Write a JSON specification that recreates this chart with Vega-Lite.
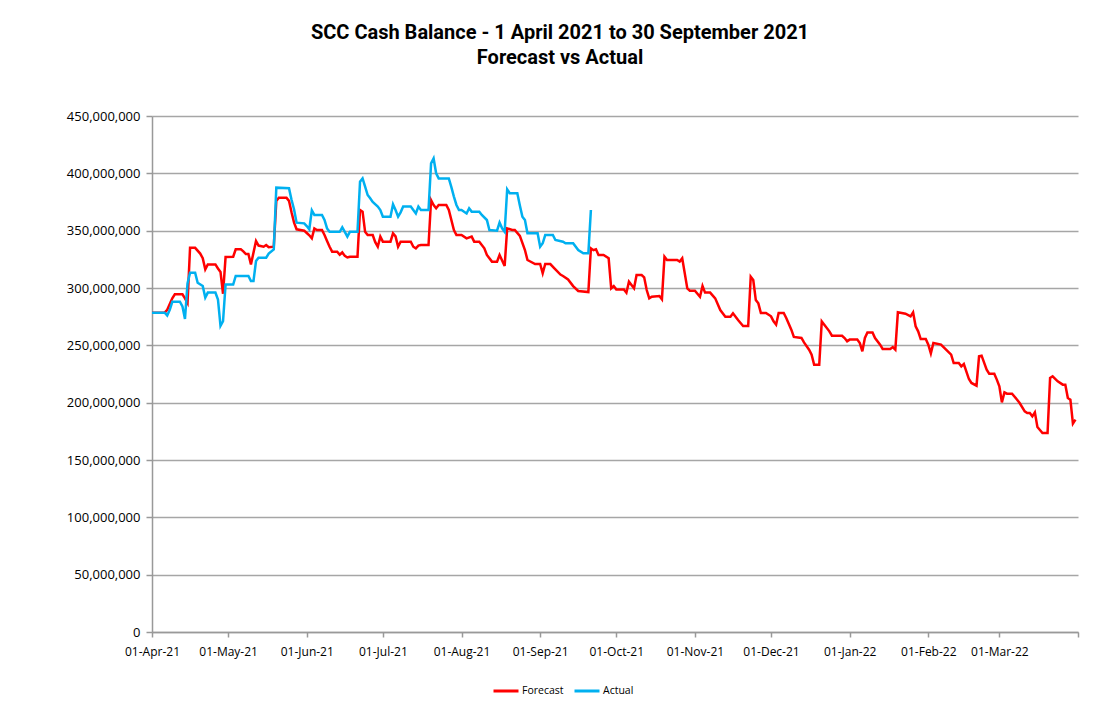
{
  "$schema": "https://vega.github.io/schema/vega-lite/v6.json",
  "autosize": "none",
  "width": 926,
  "height": 516,
  "padding": {"left": 152, "top": 116, "right": 30, "bottom": 69},
  "background": "white",
  "title": {
    "text": ["SCC Cash Balance - 1 April 2021 to 30 September 2021", "Forecast vs Actual"],
    "anchor": "middle",
    "frame": "group",
    "dx": -55,
    "offset": 42,
    "font": "Liberation Sans Narrow, Roboto, sans-serif",
    "fontSize": 20,
    "fontWeight": "bold",
    "lineHeight": 25,
    "color": "#000000"
  },
  "config": {
    "view": {"stroke": null},
    "axis": {"labelFont": "Open Sans", "labelColor": "#000000", "domainColor": "#999999", "tickColor": "#999999", "domainWidth": 1.5, "tickWidth": 1.5, "title": null}
  },
  "data": {"values": [
    {"date":"2021-04-01","value":278500000,"series":"Forecast"},
    {"date":"2021-04-06","value":278500000,"series":"Forecast"},
    {"date":"2021-04-07","value":281000000,"series":"Forecast"},
    {"date":"2021-04-09","value":291000000,"series":"Forecast"},
    {"date":"2021-04-10","value":294500000,"series":"Forecast"},
    {"date":"2021-04-13","value":294500000,"series":"Forecast"},
    {"date":"2021-04-14","value":291000000,"series":"Forecast"},
    {"date":"2021-04-15","value":287000000,"series":"Forecast"},
    {"date":"2021-04-16","value":335000000,"series":"Forecast"},
    {"date":"2021-04-18","value":335000000,"series":"Forecast"},
    {"date":"2021-04-20","value":330000000,"series":"Forecast"},
    {"date":"2021-04-21","value":326000000,"series":"Forecast"},
    {"date":"2021-04-22","value":316300000,"series":"Forecast"},
    {"date":"2021-04-23","value":320600000,"series":"Forecast"},
    {"date":"2021-04-26","value":320600000,"series":"Forecast"},
    {"date":"2021-04-27","value":317000000,"series":"Forecast"},
    {"date":"2021-04-28","value":314000000,"series":"Forecast"},
    {"date":"2021-04-29","value":295000000,"series":"Forecast"},
    {"date":"2021-04-30","value":327000000,"series":"Forecast"},
    {"date":"2021-05-03","value":327300000,"series":"Forecast"},
    {"date":"2021-05-04","value":333700000,"series":"Forecast"},
    {"date":"2021-05-06","value":333700000,"series":"Forecast"},
    {"date":"2021-05-07","value":332000000,"series":"Forecast"},
    {"date":"2021-05-08","value":329600000,"series":"Forecast"},
    {"date":"2021-05-09","value":329600000,"series":"Forecast"},
    {"date":"2021-05-10","value":320600000,"series":"Forecast"},
    {"date":"2021-05-12","value":341000000,"series":"Forecast"},
    {"date":"2021-05-13","value":337000000,"series":"Forecast"},
    {"date":"2021-05-15","value":336000000,"series":"Forecast"},
    {"date":"2021-05-16","value":337500000,"series":"Forecast"},
    {"date":"2021-05-17","value":335500000,"series":"Forecast"},
    {"date":"2021-05-19","value":336000000,"series":"Forecast"},
    {"date":"2021-05-20","value":376000000,"series":"Forecast"},
    {"date":"2021-05-21","value":378800000,"series":"Forecast"},
    {"date":"2021-05-24","value":378800000,"series":"Forecast"},
    {"date":"2021-05-25","value":376000000,"series":"Forecast"},
    {"date":"2021-05-26","value":366000000,"series":"Forecast"},
    {"date":"2021-05-27","value":357000000,"series":"Forecast"},
    {"date":"2021-05-28","value":351200000,"series":"Forecast"},
    {"date":"2021-05-31","value":350000000,"series":"Forecast"},
    {"date":"2021-06-01","value":348000000,"series":"Forecast"},
    {"date":"2021-06-02","value":346000000,"series":"Forecast"},
    {"date":"2021-06-03","value":343300000,"series":"Forecast"},
    {"date":"2021-06-04","value":352000000,"series":"Forecast"},
    {"date":"2021-06-05","value":350600000,"series":"Forecast"},
    {"date":"2021-06-07","value":350600000,"series":"Forecast"},
    {"date":"2021-06-08","value":346200000,"series":"Forecast"},
    {"date":"2021-06-09","value":341000000,"series":"Forecast"},
    {"date":"2021-06-10","value":336000000,"series":"Forecast"},
    {"date":"2021-06-11","value":331700000,"series":"Forecast"},
    {"date":"2021-06-13","value":331700000,"series":"Forecast"},
    {"date":"2021-06-14","value":329000000,"series":"Forecast"},
    {"date":"2021-06-15","value":331000000,"series":"Forecast"},
    {"date":"2021-06-16","value":328000000,"series":"Forecast"},
    {"date":"2021-06-17","value":326600000,"series":"Forecast"},
    {"date":"2021-06-18","value":327300000,"series":"Forecast"},
    {"date":"2021-06-21","value":327300000,"series":"Forecast"},
    {"date":"2021-06-22","value":368000000,"series":"Forecast"},
    {"date":"2021-06-23","value":366600000,"series":"Forecast"},
    {"date":"2021-06-24","value":349000000,"series":"Forecast"},
    {"date":"2021-06-25","value":346200000,"series":"Forecast"},
    {"date":"2021-06-27","value":346200000,"series":"Forecast"},
    {"date":"2021-06-28","value":340000000,"series":"Forecast"},
    {"date":"2021-06-29","value":336000000,"series":"Forecast"},
    {"date":"2021-06-30","value":344800000,"series":"Forecast"},
    {"date":"2021-07-01","value":340400000,"series":"Forecast"},
    {"date":"2021-07-04","value":340400000,"series":"Forecast"},
    {"date":"2021-07-05","value":347600000,"series":"Forecast"},
    {"date":"2021-07-06","value":345000000,"series":"Forecast"},
    {"date":"2021-07-07","value":336000000,"series":"Forecast"},
    {"date":"2021-07-08","value":340400000,"series":"Forecast"},
    {"date":"2021-07-12","value":340400000,"series":"Forecast"},
    {"date":"2021-07-13","value":336000000,"series":"Forecast"},
    {"date":"2021-07-14","value":334600000,"series":"Forecast"},
    {"date":"2021-07-15","value":337000000,"series":"Forecast"},
    {"date":"2021-07-16","value":337500000,"series":"Forecast"},
    {"date":"2021-07-19","value":337500000,"series":"Forecast"},
    {"date":"2021-07-20","value":376700000,"series":"Forecast"},
    {"date":"2021-07-21","value":372400000,"series":"Forecast"},
    {"date":"2021-07-22","value":369500000,"series":"Forecast"},
    {"date":"2021-07-23","value":372400000,"series":"Forecast"},
    {"date":"2021-07-26","value":372400000,"series":"Forecast"},
    {"date":"2021-07-27","value":368000000,"series":"Forecast"},
    {"date":"2021-07-29","value":350600000,"series":"Forecast"},
    {"date":"2021-07-30","value":346200000,"series":"Forecast"},
    {"date":"2021-08-01","value":346200000,"series":"Forecast"},
    {"date":"2021-08-03","value":343300000,"series":"Forecast"},
    {"date":"2021-08-05","value":344800000,"series":"Forecast"},
    {"date":"2021-08-06","value":340400000,"series":"Forecast"},
    {"date":"2021-08-08","value":340400000,"series":"Forecast"},
    {"date":"2021-08-10","value":334600000,"series":"Forecast"},
    {"date":"2021-08-11","value":328800000,"series":"Forecast"},
    {"date":"2021-08-13","value":323000000,"series":"Forecast"},
    {"date":"2021-08-15","value":323000000,"series":"Forecast"},
    {"date":"2021-08-16","value":328800000,"series":"Forecast"},
    {"date":"2021-08-17","value":324000000,"series":"Forecast"},
    {"date":"2021-08-18","value":319200000,"series":"Forecast"},
    {"date":"2021-08-19","value":352000000,"series":"Forecast"},
    {"date":"2021-08-21","value":350600000,"series":"Forecast"},
    {"date":"2021-08-22","value":350600000,"series":"Forecast"},
    {"date":"2021-08-24","value":345400000,"series":"Forecast"},
    {"date":"2021-08-26","value":333100000,"series":"Forecast"},
    {"date":"2021-08-27","value":324400000,"series":"Forecast"},
    {"date":"2021-08-30","value":320900000,"series":"Forecast"},
    {"date":"2021-09-01","value":320900000,"series":"Forecast"},
    {"date":"2021-09-02","value":312800000,"series":"Forecast"},
    {"date":"2021-09-03","value":320900000,"series":"Forecast"},
    {"date":"2021-09-05","value":320900000,"series":"Forecast"},
    {"date":"2021-09-07","value":316300000,"series":"Forecast"},
    {"date":"2021-09-09","value":311700000,"series":"Forecast"},
    {"date":"2021-09-10","value":310500000,"series":"Forecast"},
    {"date":"2021-09-12","value":307500000,"series":"Forecast"},
    {"date":"2021-09-14","value":301700000,"series":"Forecast"},
    {"date":"2021-09-16","value":297400000,"series":"Forecast"},
    {"date":"2021-09-20","value":296500000,"series":"Forecast"},
    {"date":"2021-09-21","value":334600000,"series":"Forecast"},
    {"date":"2021-09-22","value":333000000,"series":"Forecast"},
    {"date":"2021-09-23","value":333700000,"series":"Forecast"},
    {"date":"2021-09-24","value":328800000,"series":"Forecast"},
    {"date":"2021-09-26","value":328800000,"series":"Forecast"},
    {"date":"2021-09-28","value":325900000,"series":"Forecast"},
    {"date":"2021-09-29","value":299700000,"series":"Forecast"},
    {"date":"2021-09-30","value":301700000,"series":"Forecast"},
    {"date":"2021-10-01","value":298800000,"series":"Forecast"},
    {"date":"2021-10-04","value":298800000,"series":"Forecast"},
    {"date":"2021-10-05","value":295900000,"series":"Forecast"},
    {"date":"2021-10-06","value":305500000,"series":"Forecast"},
    {"date":"2021-10-07","value":302600000,"series":"Forecast"},
    {"date":"2021-10-08","value":299700000,"series":"Forecast"},
    {"date":"2021-10-09","value":311300000,"series":"Forecast"},
    {"date":"2021-10-11","value":311300000,"series":"Forecast"},
    {"date":"2021-10-12","value":309300000,"series":"Forecast"},
    {"date":"2021-10-13","value":298200000,"series":"Forecast"},
    {"date":"2021-10-14","value":291000000,"series":"Forecast"},
    {"date":"2021-10-15","value":292400000,"series":"Forecast"},
    {"date":"2021-10-18","value":293000000,"series":"Forecast"},
    {"date":"2021-10-19","value":290100000,"series":"Forecast"},
    {"date":"2021-10-20","value":327300000,"series":"Forecast"},
    {"date":"2021-10-21","value":324400000,"series":"Forecast"},
    {"date":"2021-10-25","value":324400000,"series":"Forecast"},
    {"date":"2021-10-26","value":323000000,"series":"Forecast"},
    {"date":"2021-10-27","value":325900000,"series":"Forecast"},
    {"date":"2021-10-29","value":299700000,"series":"Forecast"},
    {"date":"2021-10-30","value":297700000,"series":"Forecast"},
    {"date":"2021-11-01","value":297700000,"series":"Forecast"},
    {"date":"2021-11-03","value":292400000,"series":"Forecast"},
    {"date":"2021-11-04","value":301700000,"series":"Forecast"},
    {"date":"2021-11-05","value":296000000,"series":"Forecast"},
    {"date":"2021-11-07","value":296000000,"series":"Forecast"},
    {"date":"2021-11-09","value":291000000,"series":"Forecast"},
    {"date":"2021-11-11","value":280800000,"series":"Forecast"},
    {"date":"2021-11-13","value":275000000,"series":"Forecast"},
    {"date":"2021-11-15","value":275000000,"series":"Forecast"},
    {"date":"2021-11-16","value":277900000,"series":"Forecast"},
    {"date":"2021-11-18","value":272100000,"series":"Forecast"},
    {"date":"2021-11-20","value":266900000,"series":"Forecast"},
    {"date":"2021-11-22","value":266900000,"series":"Forecast"},
    {"date":"2021-11-23","value":309900000,"series":"Forecast"},
    {"date":"2021-11-24","value":307000000,"series":"Forecast"},
    {"date":"2021-11-25","value":289500000,"series":"Forecast"},
    {"date":"2021-11-26","value":286600000,"series":"Forecast"},
    {"date":"2021-11-27","value":278200000,"series":"Forecast"},
    {"date":"2021-11-29","value":278200000,"series":"Forecast"},
    {"date":"2021-12-01","value":275300000,"series":"Forecast"},
    {"date":"2021-12-02","value":270900000,"series":"Forecast"},
    {"date":"2021-12-03","value":268000000,"series":"Forecast"},
    {"date":"2021-12-04","value":278200000,"series":"Forecast"},
    {"date":"2021-12-06","value":278200000,"series":"Forecast"},
    {"date":"2021-12-07","value":273800000,"series":"Forecast"},
    {"date":"2021-12-09","value":263700000,"series":"Forecast"},
    {"date":"2021-12-10","value":257300000,"series":"Forecast"},
    {"date":"2021-12-13","value":256400000,"series":"Forecast"},
    {"date":"2021-12-14","value":252600000,"series":"Forecast"},
    {"date":"2021-12-16","value":246200000,"series":"Forecast"},
    {"date":"2021-12-17","value":241900000,"series":"Forecast"},
    {"date":"2021-12-18","value":233100000,"series":"Forecast"},
    {"date":"2021-12-20","value":233100000,"series":"Forecast"},
    {"date":"2021-12-21","value":270900000,"series":"Forecast"},
    {"date":"2021-12-22","value":268000000,"series":"Forecast"},
    {"date":"2021-12-24","value":262200000,"series":"Forecast"},
    {"date":"2021-12-25","value":258400000,"series":"Forecast"},
    {"date":"2021-12-29","value":258400000,"series":"Forecast"},
    {"date":"2021-12-30","value":256400000,"series":"Forecast"},
    {"date":"2021-12-31","value":253500000,"series":"Forecast"},
    {"date":"2022-01-01","value":255000000,"series":"Forecast"},
    {"date":"2022-01-04","value":255000000,"series":"Forecast"},
    {"date":"2022-01-05","value":252000000,"series":"Forecast"},
    {"date":"2022-01-06","value":244800000,"series":"Forecast"},
    {"date":"2022-01-07","value":256400000,"series":"Forecast"},
    {"date":"2022-01-08","value":261300000,"series":"Forecast"},
    {"date":"2022-01-10","value":261300000,"series":"Forecast"},
    {"date":"2022-01-11","value":256400000,"series":"Forecast"},
    {"date":"2022-01-13","value":250600000,"series":"Forecast"},
    {"date":"2022-01-14","value":246800000,"series":"Forecast"},
    {"date":"2022-01-17","value":246800000,"series":"Forecast"},
    {"date":"2022-01-18","value":248500000,"series":"Forecast"},
    {"date":"2022-01-19","value":246200000,"series":"Forecast"},
    {"date":"2022-01-20","value":278800000,"series":"Forecast"},
    {"date":"2022-01-23","value":277600000,"series":"Forecast"},
    {"date":"2022-01-25","value":275300000,"series":"Forecast"},
    {"date":"2022-01-26","value":278800000,"series":"Forecast"},
    {"date":"2022-01-27","value":266600000,"series":"Forecast"},
    {"date":"2022-01-28","value":262200000,"series":"Forecast"},
    {"date":"2022-01-29","value":255500000,"series":"Forecast"},
    {"date":"2022-01-31","value":255500000,"series":"Forecast"},
    {"date":"2022-02-01","value":250600000,"series":"Forecast"},
    {"date":"2022-02-02","value":243000000,"series":"Forecast"},
    {"date":"2022-02-03","value":252000000,"series":"Forecast"},
    {"date":"2022-02-06","value":250600000,"series":"Forecast"},
    {"date":"2022-02-08","value":246200000,"series":"Forecast"},
    {"date":"2022-02-10","value":241900000,"series":"Forecast"},
    {"date":"2022-02-11","value":234600000,"series":"Forecast"},
    {"date":"2022-02-13","value":234600000,"series":"Forecast"},
    {"date":"2022-02-14","value":231700000,"series":"Forecast"},
    {"date":"2022-02-15","value":233700000,"series":"Forecast"},
    {"date":"2022-02-17","value":220600000,"series":"Forecast"},
    {"date":"2022-02-18","value":217200000,"series":"Forecast"},
    {"date":"2022-02-20","value":214800000,"series":"Forecast"},
    {"date":"2022-02-21","value":240400000,"series":"Forecast"},
    {"date":"2022-02-22","value":241000000,"series":"Forecast"},
    {"date":"2022-02-24","value":228800000,"series":"Forecast"},
    {"date":"2022-02-25","value":225300000,"series":"Forecast"},
    {"date":"2022-02-27","value":225300000,"series":"Forecast"},
    {"date":"2022-02-28","value":220100000,"series":"Forecast"},
    {"date":"2022-03-01","value":214200000,"series":"Forecast"},
    {"date":"2022-03-02","value":200300000,"series":"Forecast"},
    {"date":"2022-03-03","value":209000000,"series":"Forecast"},
    {"date":"2022-03-04","value":207800000,"series":"Forecast"},
    {"date":"2022-03-06","value":207800000,"series":"Forecast"},
    {"date":"2022-03-08","value":202600000,"series":"Forecast"},
    {"date":"2022-03-09","value":199700000,"series":"Forecast"},
    {"date":"2022-03-11","value":192400000,"series":"Forecast"},
    {"date":"2022-03-12","value":191000000,"series":"Forecast"},
    {"date":"2022-03-13","value":191000000,"series":"Forecast"},
    {"date":"2022-03-14","value":188100000,"series":"Forecast"},
    {"date":"2022-03-15","value":191600000,"series":"Forecast"},
    {"date":"2022-03-16","value":178800000,"series":"Forecast"},
    {"date":"2022-03-18","value":173500000,"series":"Forecast"},
    {"date":"2022-03-20","value":173500000,"series":"Forecast"},
    {"date":"2022-03-21","value":221500000,"series":"Forecast"},
    {"date":"2022-03-22","value":223000000,"series":"Forecast"},
    {"date":"2022-03-24","value":218600000,"series":"Forecast"},
    {"date":"2022-03-26","value":215700000,"series":"Forecast"},
    {"date":"2022-03-27","value":215700000,"series":"Forecast"},
    {"date":"2022-03-28","value":204100000,"series":"Forecast"},
    {"date":"2022-03-29","value":202600000,"series":"Forecast"},
    {"date":"2022-03-30","value":181700000,"series":"Forecast"},
    {"date":"2022-03-31","value":185200000,"series":"Forecast"},
    {"date":"2021-04-01","value":278500000,"series":"Actual"},
    {"date":"2021-04-06","value":278500000,"series":"Actual"},
    {"date":"2021-04-07","value":276000000,"series":"Actual"},
    {"date":"2021-04-08","value":281000000,"series":"Actual"},
    {"date":"2021-04-09","value":288000000,"series":"Actual"},
    {"date":"2021-04-12","value":288000000,"series":"Actual"},
    {"date":"2021-04-13","value":284000000,"series":"Actual"},
    {"date":"2021-04-14","value":273000000,"series":"Actual"},
    {"date":"2021-04-15","value":304000000,"series":"Actual"},
    {"date":"2021-04-16","value":313400000,"series":"Actual"},
    {"date":"2021-04-18","value":313400000,"series":"Actual"},
    {"date":"2021-04-19","value":304600000,"series":"Actual"},
    {"date":"2021-04-21","value":301700000,"series":"Actual"},
    {"date":"2021-04-22","value":291600000,"series":"Actual"},
    {"date":"2021-04-23","value":296000000,"series":"Actual"},
    {"date":"2021-04-26","value":296000000,"series":"Actual"},
    {"date":"2021-04-27","value":290000000,"series":"Actual"},
    {"date":"2021-04-28","value":267000000,"series":"Actual"},
    {"date":"2021-04-29","value":271000000,"series":"Actual"},
    {"date":"2021-04-30","value":303000000,"series":"Actual"},
    {"date":"2021-05-03","value":303000000,"series":"Actual"},
    {"date":"2021-05-04","value":310500000,"series":"Actual"},
    {"date":"2021-05-09","value":310500000,"series":"Actual"},
    {"date":"2021-05-10","value":306000000,"series":"Actual"},
    {"date":"2021-05-11","value":306000000,"series":"Actual"},
    {"date":"2021-05-12","value":323500000,"series":"Actual"},
    {"date":"2021-05-13","value":326400000,"series":"Actual"},
    {"date":"2021-05-16","value":326400000,"series":"Actual"},
    {"date":"2021-05-17","value":330000000,"series":"Actual"},
    {"date":"2021-05-19","value":333700000,"series":"Actual"},
    {"date":"2021-05-20","value":387500000,"series":"Actual"},
    {"date":"2021-05-25","value":387000000,"series":"Actual"},
    {"date":"2021-05-26","value":377000000,"series":"Actual"},
    {"date":"2021-05-27","value":368500000,"series":"Actual"},
    {"date":"2021-05-28","value":357000000,"series":"Actual"},
    {"date":"2021-05-31","value":356400000,"series":"Actual"},
    {"date":"2021-06-01","value":354000000,"series":"Actual"},
    {"date":"2021-06-02","value":351200000,"series":"Actual"},
    {"date":"2021-06-03","value":367700000,"series":"Actual"},
    {"date":"2021-06-04","value":363700000,"series":"Actual"},
    {"date":"2021-06-07","value":363700000,"series":"Actual"},
    {"date":"2021-06-08","value":359300000,"series":"Actual"},
    {"date":"2021-06-09","value":352000000,"series":"Actual"},
    {"date":"2021-06-10","value":349000000,"series":"Actual"},
    {"date":"2021-06-14","value":349000000,"series":"Actual"},
    {"date":"2021-06-15","value":352900000,"series":"Actual"},
    {"date":"2021-06-16","value":349000000,"series":"Actual"},
    {"date":"2021-06-17","value":344800000,"series":"Actual"},
    {"date":"2021-06-18","value":349000000,"series":"Actual"},
    {"date":"2021-06-21","value":349000000,"series":"Actual"},
    {"date":"2021-06-22","value":392700000,"series":"Actual"},
    {"date":"2021-06-23","value":395600000,"series":"Actual"},
    {"date":"2021-06-24","value":388400000,"series":"Actual"},
    {"date":"2021-06-25","value":381100000,"series":"Actual"},
    {"date":"2021-06-26","value":378200000,"series":"Actual"},
    {"date":"2021-06-27","value":375000000,"series":"Actual"},
    {"date":"2021-06-29","value":371000000,"series":"Actual"},
    {"date":"2021-06-30","value":368000000,"series":"Actual"},
    {"date":"2021-07-01","value":362200000,"series":"Actual"},
    {"date":"2021-07-04","value":362200000,"series":"Actual"},
    {"date":"2021-07-05","value":373000000,"series":"Actual"},
    {"date":"2021-07-06","value":368000000,"series":"Actual"},
    {"date":"2021-07-07","value":362200000,"series":"Actual"},
    {"date":"2021-07-08","value":366000000,"series":"Actual"},
    {"date":"2021-07-09","value":371000000,"series":"Actual"},
    {"date":"2021-07-12","value":371000000,"series":"Actual"},
    {"date":"2021-07-13","value":368000000,"series":"Actual"},
    {"date":"2021-07-14","value":365000000,"series":"Actual"},
    {"date":"2021-07-15","value":371000000,"series":"Actual"},
    {"date":"2021-07-16","value":368000000,"series":"Actual"},
    {"date":"2021-07-19","value":368000000,"series":"Actual"},
    {"date":"2021-07-20","value":408700000,"series":"Actual"},
    {"date":"2021-07-21","value":413000000,"series":"Actual"},
    {"date":"2021-07-22","value":400000000,"series":"Actual"},
    {"date":"2021-07-23","value":395600000,"series":"Actual"},
    {"date":"2021-07-27","value":395600000,"series":"Actual"},
    {"date":"2021-07-28","value":388000000,"series":"Actual"},
    {"date":"2021-07-29","value":379700000,"series":"Actual"},
    {"date":"2021-07-30","value":372400000,"series":"Actual"},
    {"date":"2021-07-31","value":368000000,"series":"Actual"},
    {"date":"2021-08-01","value":368000000,"series":"Actual"},
    {"date":"2021-08-03","value":365000000,"series":"Actual"},
    {"date":"2021-08-04","value":369500000,"series":"Actual"},
    {"date":"2021-08-05","value":366600000,"series":"Actual"},
    {"date":"2021-08-08","value":366600000,"series":"Actual"},
    {"date":"2021-08-09","value":363700000,"series":"Actual"},
    {"date":"2021-08-11","value":359300000,"series":"Actual"},
    {"date":"2021-08-12","value":350600000,"series":"Actual"},
    {"date":"2021-08-15","value":350000000,"series":"Actual"},
    {"date":"2021-08-16","value":357000000,"series":"Actual"},
    {"date":"2021-08-17","value":352000000,"series":"Actual"},
    {"date":"2021-08-18","value":349000000,"series":"Actual"},
    {"date":"2021-08-19","value":386000000,"series":"Actual"},
    {"date":"2021-08-20","value":382600000,"series":"Actual"},
    {"date":"2021-08-23","value":382600000,"series":"Actual"},
    {"date":"2021-08-24","value":372000000,"series":"Actual"},
    {"date":"2021-08-25","value":362200000,"series":"Actual"},
    {"date":"2021-08-26","value":359300000,"series":"Actual"},
    {"date":"2021-08-27","value":347700000,"series":"Actual"},
    {"date":"2021-08-31","value":347700000,"series":"Actual"},
    {"date":"2021-09-01","value":336000000,"series":"Actual"},
    {"date":"2021-09-02","value":339000000,"series":"Actual"},
    {"date":"2021-09-03","value":346200000,"series":"Actual"},
    {"date":"2021-09-06","value":346200000,"series":"Actual"},
    {"date":"2021-09-07","value":341900000,"series":"Actual"},
    {"date":"2021-09-10","value":340400000,"series":"Actual"},
    {"date":"2021-09-11","value":339000000,"series":"Actual"},
    {"date":"2021-09-14","value":339000000,"series":"Actual"},
    {"date":"2021-09-16","value":333100000,"series":"Actual"},
    {"date":"2021-09-18","value":330200000,"series":"Actual"},
    {"date":"2021-09-20","value":330200000,"series":"Actual"},
    {"date":"2021-09-21","value":368000000,"series":"Actual"}
  ]},
  "mark": {"type": "line", "strokeWidth": 2.5, "interpolate": "linear"},
  "encoding": {
    "x": {
      "field": "date",
      "type": "temporal",
      "scale": {"type": "utc", "domain": [{"year": 2021, "month": 4, "date": 1, "utc": true}, {"year": 2022, "month": 4, "date": 1, "utc": true}]},
      "axis": {
        "values": [
          {"year": 2021, "month": 4, "date": 1, "utc": true},
          {"year": 2021, "month": 5, "date": 1, "utc": true},
          {"year": 2021, "month": 6, "date": 1, "utc": true},
          {"year": 2021, "month": 7, "date": 1, "utc": true},
          {"year": 2021, "month": 8, "date": 1, "utc": true},
          {"year": 2021, "month": 9, "date": 1, "utc": true},
          {"year": 2021, "month": 10, "date": 1, "utc": true},
          {"year": 2021, "month": 11, "date": 1, "utc": true},
          {"year": 2021, "month": 12, "date": 1, "utc": true},
          {"year": 2022, "month": 1, "date": 1, "utc": true},
          {"year": 2022, "month": 2, "date": 1, "utc": true},
          {"year": 2022, "month": 3, "date": 1, "utc": true},
          {"year": 2022, "month": 4, "date": 1, "utc": true}
        ],
        "format": "%d-%b-%y",
        "labelExpr": "utcyear(datum.value) == 2022 && utcmonth(datum.value) == 3 ? '' : datum.label",
        "grid": false,
        "tickSize": 5,
        "labelFontSize": 12,
        "labelPadding": 9,
        "labelOverlap": false,
        "labelFlush": false
      }
    },
    "y": {
      "field": "value",
      "type": "quantitative",
      "scale": {"domain": [0, 450000000], "nice": false, "zero": true},
      "axis": {
        "values": [0, 50000000, 100000000, 150000000, 200000000, 250000000, 300000000, 350000000, 400000000, 450000000],
        "format": ",d",
        "grid": true,
        "gridColor": "#a6a6a6",
        "gridWidth": 1.5,
        "tickSize": 6,
        "labelFontSize": 13,
        "labelPadding": 6
      }
    },
    "color": {
      "field": "series",
      "type": "nominal",
      "scale": {"domain": ["Forecast", "Actual"], "range": ["#FF0000", "#00B0F0"]},
      "legend": {
        "title": null,
        "orient": "none",
        "legendX": 340,
        "legendY": 561,
        "direction": "horizontal",
        "symbolType": "stroke",
        "symbolSize": 625,
        "symbolStrokeWidth": 3,
        "labelFont": "Open Sans",
        "labelFontSize": 10.5,
        "labelColor": "#000000",
        "labelOffset": 2,
        "columnPadding": 4
      }
    }
  }
}
